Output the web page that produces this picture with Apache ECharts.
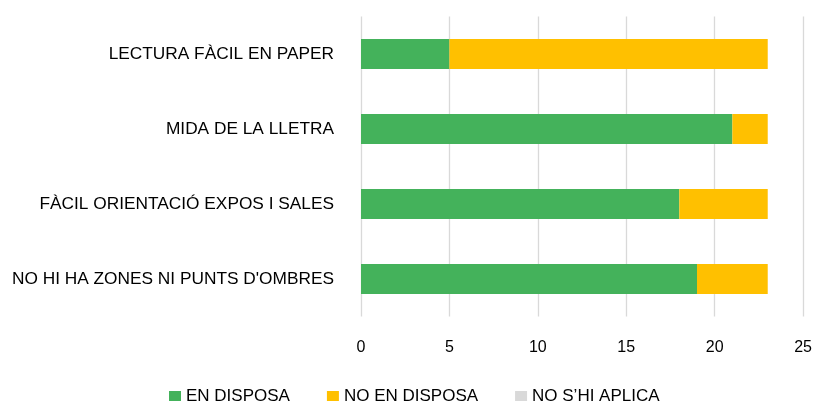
<!DOCTYPE html>
<html>
<head>
<meta charset="utf-8">
<script src="https://cdn.jsdelivr.net/npm/echarts@6/dist/echarts.min.js"></script>
<style>
  html, body { margin: 0; padding: 0; background: #fff; overflow: hidden; }
  #chart { width: 815px; height: 401px; }
</style>
</head>
<body>
<div id="chart"></div>
<script>
const categories = [
  'LECTURA FÀCIL EN PAPER',
  'MIDA DE LA LLETRA',
  'FÀCIL ORIENTACIÓ EXPOS I SALES',
  "NO HI HA ZONES NI PUNTS D'OMBRES"
]
const enDisposa = [5, 21, 18, 19]
const noEnDisposa = [18, 2, 5, 4]
const noShiAplica = [0, 0, 0, 0]

const font = 'Liberation Sans, Arial, Helvetica, sans-serif'

const myChart = echarts.init(document.getElementById('chart'))
const option = {
  animation: false,
  textStyle: { fontFamily: font },
  grid: {
    left: 361,
    right: 7.5,
    top: 16.5,
    bottom: 84.5
  },
  legend: {
    left: 164,
    top: 383,
    itemWidth: 12,
    itemHeight: 11,
    itemGap: 37,
    icon: 'rect',
    textStyle: { fontSize: 17, color: '#000', fontFamily: font },
    data: ['EN DISPOSA', 'NO EN DISPOSA', 'NO S\u2019HI APLICA']
  },
  xAxis: {
    type: 'value',
    min: 0,
    max: 25,
    interval: 5,
    axisLine: { show: false },
    axisTick: { show: false },
    splitLine: { lineStyle: { color: '#d9d9d9', width: 1.3 } },
    axisLabel: { fontSize: 16, color: '#000', margin: 23, fontFamily: font }
  },
  yAxis: {
    type: 'category',
    inverse: true,
    data: categories,
    axisLine: { show: false },
    axisTick: { show: false },
    axisLabel: { fontSize: 17.3, color: '#000', margin: 27, fontFamily: font }
  },
  series: [
    {
      name: 'EN DISPOSA',
      type: 'bar',
      stack: 'total',
      barWidth: '40%',
      itemStyle: { color: '#44b25b' },
      data: enDisposa
    },
    {
      name: 'NO EN DISPOSA',
      type: 'bar',
      stack: 'total',
      barWidth: '40%',
      itemStyle: { color: '#ffc000' },
      data: noEnDisposa
    },
    {
      name: 'NO S\u2019HI APLICA',
      type: 'bar',
      stack: 'total',
      barWidth: '40%',
      itemStyle: { color: '#d9d9d9' },
      data: noShiAplica
    }
  ]
}
myChart.setOption(option)
</script>
</body>
</html>
